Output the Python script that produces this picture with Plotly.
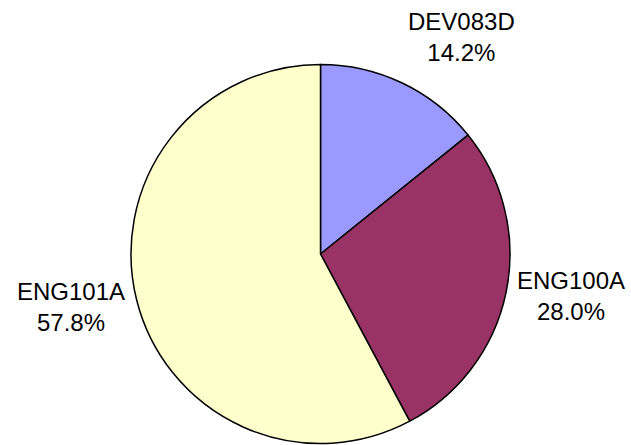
import plotly.graph_objects as go

labels = ["DEV083D", "ENG100A", "ENG101A"]
values = [14.2, 28.0, 57.8]
colors = ["#9999FF", "#993366", "#FFFFCC"]

# label anchor positions (pixels in the 631x445 canvas)
label_px = [(461.5, 37), (571, 296), (70.5, 307)]

W, H = 631, 445
fig = go.Figure(go.Pie(
    labels=labels, values=values, sort=False, direction="clockwise", rotation=0,
    marker=dict(colors=colors, line=dict(color="black", width=1.5)),
    textinfo="none", hoverinfo="label+percent",
    domain=dict(x=[130.5 / W, 510.5 / W], y=[1.5 / H, (H - 64.5) / H]),
    showlegend=False,
))

total = sum(values)
anns = []
for lab, v, (px, py) in zip(labels, values, label_px):
    anns.append(dict(
        x=px / W, y=1 - py / H, xref="paper", yref="paper",
        xanchor="center", yanchor="middle", showarrow=False,
        text=f"{lab}<br>{v / total * 100:.1f}%",
        font=dict(family="Liberation Sans, Arial, sans-serif", size=24, color="black"),
    ))

fig.update_layout(
    width=W, height=H, margin=dict(l=0, r=0, t=0, b=0),
    paper_bgcolor="white", plot_bgcolor="white",
    annotations=anns,
)
fig.write_html(
    "out.html",
    config={"displayModeBar": False},
    post_script="document.body.style.margin='0';document.body.style.overflow='hidden';",
)
